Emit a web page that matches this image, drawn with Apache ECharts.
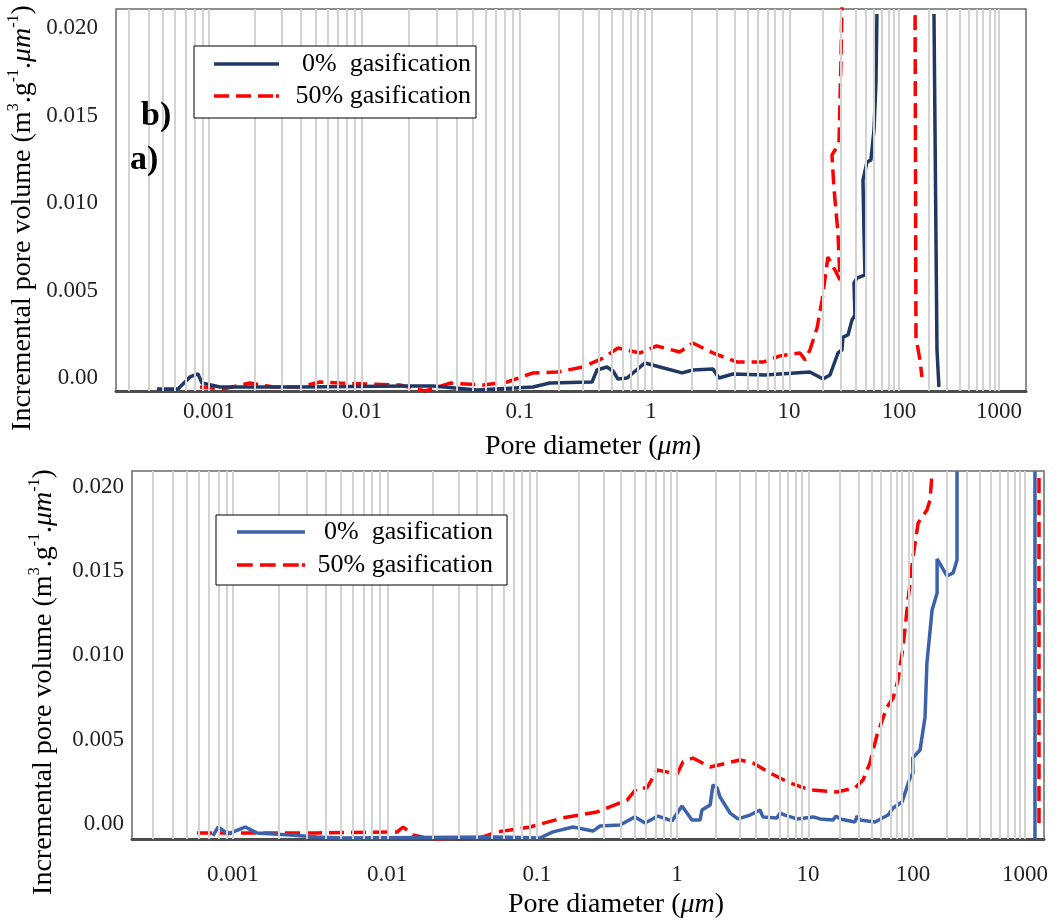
<!DOCTYPE html>
<html><head><meta charset="utf-8">
<script src="https://cdn.jsdelivr.net/npm/echarts@6/dist/echarts.min.js"></script>
<style>html,body{margin:0;padding:0;background:#fff}#c{width:1059px;height:921px}</style>
</head><body><div id="c"></div>
<script>
// ---------------- data ----------------
const decadeLabels = ['0.001', '0.01', '0.1', '1', '10', '100', '1000'];
const yTickValues = [0, 0.005, 0.010, 0.015, 0.020];
const seriesNames = ['0%  gasification', '50% gasification'];

// [pore diameter (um), incremental pore volume]; null = break in the curve
const topNoGas = [
  [0.000457,-0.00063],[0.000627,-0.00063],[0.000751,0.00006],[0.000848,0.00023],[0.0009,-0.00029],
  [0.00118,-0.00051],[0.00394,-0.00051],[0.0201,-0.00046],[0.0281,-0.00046],[0.0535,-0.00069],
  [0.1257,-0.00051],[0.169,-0.00029],[0.355,-0.00023],[0.387,0.00046],[0.461,0.00063],[0.513,0.0004],
  [0.56,-0.00006],[0.656,0],[0.9,0.00086],[1.16,0.00063],[1.68,0.00029],[2.01,0.00046],[2.81,0.00051],
  [3.11,0],[3.93,0.00023],[6.7,0.00017],[15.5,0.00034],[20.4,-0.00006],[23.6,0.00017],[27.9,0.00143],
  [30.3,0.0016],[31.0,0.00234],[34.4,0.00246],[37.4,0.00331],[39.8,0.0036],[39.0,0.00543],[41.5,0.00571],
  [49.1,0.00589],[48.1,0.00829],[47.1,0.01131],[51.2,0.01234],[55.6,0.01246],[59.3,0.01417],[61.8,0.01686],
  [63.1,0.0208],
  null,
  [224,0.0208],[240,0.0016],[251,-0.00051]
];
const topHalfGas = [
  [0.000873,-0.00051],[0.00123,-0.00063],[0.00185,-0.00029],[0.00262,-0.00051],[0.00394,-0.00051],
  [0.00531,-0.00023],[0.00718,-0.00029],[0.0174,-0.0004],[0.0251,-0.00074],[0.0361,-0.00029],
  [0.0583,-0.0004],[0.0828,-0.00023],[0.1257,0.00029],[0.192,0.00034],[0.303,0.00063],[0.43,0.00114],
  [0.56,0.00171],[0.824,0.00143],[1.1,0.00183],[1.62,0.00149],[2.01,0.002],[2.81,0.00143],[4.2,0.00091],
  [6.49,0.00091],[8.6,0.00126],[12.6,0.00143],[14.0,0.00103],[15.5,0.0016],[18.0,0.00286],[20.0,0.00446],
  [22.6,0.00691],[26.2,0.00617],[29.1,0.0056],[27.9,0.00829],[25.6,0.01091],[24.6,0.01274],[28.5,0.01343],
  [29.7,0.01817],[30.3,0.0212],
  null,
  [145,0.02074],[148,0.00234],[162,0.00103],[170,0.00006]
];
const bottomNoGas = [
  [0.000741,-0.00071],[0.0008,-0.00018],[0.00093,-0.00059],[0.0012,-0.00018],[0.00123,-0.00012],
  [0.00143,-0.00053],[0.00234,-0.00065],[0.00351,-0.00077],[0.00495,-0.00083],[0.0541,-0.00077],
  [0.105,-0.00083],[0.13,-0.00047],[0.181,-0.00018],[0.251,-0.00042],[0.282,-0.00012],[0.392,-0.00006],
  [0.501,0.00042],[0.591,0.00006],[0.731,0.00047],[0.921,0.00018],[1.09,0.00107],[1.3,0.00024],
  [1.5,0.00024],[1.55,0.00083],[1.79,0.00113],[1.88,0.00231],[2.02,0.00214],[2.13,0.0016],[2.54,0.00065],
  [2.92,0.0003],[3.61,0.00053],[4.3,0.00083],[4.53,0.00042],[5.8,0.00036],[6.11,0.00065],[6.67,0.00053],
  [8.24,0.0003],[11.2,0.00042],[13.0,0.0003],[17.3,0.00024],[18.5,0.00047],[20.2,0.0003],[28.0,0.00012],
  [29.3,0.00047],[31.3,0.00024],[43.5,0.00012],[57.8,0.00053],[64.6,0.00095],[78.5,0.0013],[93.5,0.00273],
  [100,0.00302],[99,0.00391],[115.5,0.00439],[128,0.00635],[133,0.00955],[148,0.01269],[164,0.0137],
  [164,0.01572],[201,0.01471],[228,0.01489],[247,0.01566],[247,0.0209],
  null,
  [1228,0.0209],[1228,-0.00089]
];
const bottomHalfGas = [
  [0.000584,-0.00053],[0.00123,-0.00053],[0.00351,-0.00053],[0.0117,-0.00047],[0.0128,-0.00018],
  [0.0149,-0.00065],[0.0194,-0.00089],[0.0417,-0.00083],[0.0541,-0.00047],[0.0898,-0.00018],
  [0.153,0.00036],[0.268,0.00071],[0.44,0.00142],[0.518,0.00214],[0.61,0.00214],[0.72,0.0032],
  [1.0,0.00297],[1.11,0.00368],[1.32,0.00391],[1.79,0.00338],[3.03,0.0038],[3.8,0.00362],[5.13,0.00302],
  [7.29,0.00243],[10.4,0.00202],[18.9,0.0019],[28.0,0.00214],[33.4,0.00261],[38.9,0.00362],[45.4,0.00528],
  [56.5,0.00694],[64.6,0.00747],[71.9,0.00854],[80.4,0.0105],[89.6,0.01329],[100,0.01584],[111,0.01785],
  [133,0.01862],[142,0.01922],[148,0.0209],
  null,
  [1334,0.02052],[1334,-0.00006]
];

// ---------------- axis warp (printed position of each decade, in decade units) ----------------
const topWarp = [0, 1.162, 2.362, 3.357, 4.405, 5.240, 6.0];
const bottomWarp = [0, 1.167, 2.303, 3.364, 4.356, 5.152, 6.0];

function toU(d, w) {
  const L = Math.log10(d) + 3;
  if (L <= 0) return L * (w[1] - w[0]);
  if (L >= 6) return w[6] + (L - 6) * (w[6] - w[5]);
  const k = Math.floor(L);
  return w[k] + (L - k) * (w[k + 1] - w[k]);
}
function mapData(arr, w) {
  return arr.map(p => p ? [toU(p[0], w), p[1]] : ['-', '-']);
}
function gridLineData(w, umin, umax) {
  const out = [];
  for (let e = -5; e <= 4; e++) for (let k = 1; k <= 9; k++) {
    const u = toU(k * Math.pow(10, e), w);
    if (u > umin + 0.01 && u < umax - 0.01) out.push({ xAxis: u });
  }
  return out;
}
function xLabelFmt(w) {
  return v => {
    let best = 0;
    for (let i = 1; i < w.length; i++) if (Math.abs(w[i] - v) < Math.abs(w[best] - v)) best = i;
    return decadeLabels[best];
  };
}

const FONT = '"Liberation Serif", "Times New Roman", serif';
const navy = '#203864', blue = '#3b62aa', red = '#ff0000';
const dash = [15, 7];
const LW = 3.5;

// legend icons: a solid bar and a dashed bar (aspect 130:7 = itemWidth:itemHeight)
const solidIcon = 'path://M0,0H130V7H0Z';
const dashIcon = 'path://M0,0H30V7H0Z M44,0H74V7H44Z M88,0H118V7H88Z M124,0H130V7H124Z';

const topRange = [-0.706, 6.205];
const botRange = [-0.765, 6.144];

const yRich = {
  n: { fontSize: 28, fontFamily: FONT, fill: '#000', lineHeight: 34 },
  i: { fontSize: 28, fontFamily: FONT, fontStyle: 'italic', fill: '#000', lineHeight: 34 },
  s: { fontSize: 16, fontFamily: FONT, fill: '#000', verticalAlign: 'top', lineHeight: 18 }
};
const yTitle = '{n|Incremental pore volume (m}{s|3}{n|.g}{s|-1}{n|.}{i|μm}{s|-1}{n|)}';
const xTitle = '{n|Pore diameter (}{i|μm}{n|)}';

function yAxisCfg(grid, min, max, margin) {
  return {
    gridIndex: grid, type: 'value', min: min, max: max,
    axisLine: { show: false }, axisTick: { show: false }, splitLine: { show: false },
    axisLabel: {
      customValues: yTickValues, margin: margin, fontSize: 23, fontFamily: FONT, color: '#222',
      formatter: v => (Math.abs(v) < 1e-9 ? '0.00' : v.toFixed(3))
    }
  };
}
function xAxisCfg(grid, range, w, margin) {
  return {
    gridIndex: grid, type: 'value', min: range[0], max: range[1],
    axisLine: { show: true, onZero: false, lineStyle: { color: '#4d4d4d', width: 3 } },
    axisTick: { show: false }, splitLine: { show: false },
    axisLabel: { customValues: w, formatter: xLabelFmt(w), margin: margin, fontSize: 23, fontFamily: FONT, color: '#222' }
  };
}
function legendCfg(left, top, pad, gap, iw, tw, blueCol) {
  return {
    orient: 'vertical', left: left, top: top, padding: pad, itemGap: gap,
    itemWidth: iw, itemHeight: iw * 7 / 130,
    borderColor: '#000', borderWidth: 1, backgroundColor: '#fff', selectedMode: false, z: 10,
    data: [
      { name: seriesNames[0], icon: solidIcon, itemStyle: { color: blueCol, borderWidth: 0 } },
      { name: seriesNames[1], icon: dashIcon, itemStyle: { color: red, borderWidth: 0 } }
    ],
    formatter: n => '{r|' + n + '}',
    textStyle: { rich: { r: { width: tw, align: 'right', fontSize: 26, fontFamily: FONT, color: '#000', lineHeight: 30 } } }
  };
}
function gridSeries(idx, w, range) {
  return {
    type: 'line', xAxisIndex: idx, yAxisIndex: idx, data: [], silent: true, z: 1,
    markLine: {
      silent: true, animation: false, symbol: ['none', 'none'], label: { show: false },
      lineStyle: { color: '#d3d3d3', width: 2, type: 'solid' }, emphasis: { disabled: true },
      data: gridLineData(w, range[0], range[1])
    }
  };
}
function dataSeries(idx, name, arr, w, col, type, z) {
  return {
    name: name, type: 'line', xAxisIndex: idx, yAxisIndex: idx, data: mapData(arr, w),
    symbol: 'none', showSymbol: false, connectNulls: false, clip: true, z: z,
    lineStyle: { color: col, width: LW, type: type }, itemStyle: { color: col },
    emphasis: { disabled: true }
  };
}

const chart = echarts.init(document.getElementById('c'), null, { renderer: 'canvas' });
chart.setOption({
  animation: false,
  backgroundColor: '#fff',
  grid: [
    { left: 116, right: 33, top: 9, bottom: 530, show: true, borderColor: '#6a6a6a', borderWidth: 1.5, containLabel: false, outerBoundsMode: 'none' },
    { left: 132, right: 15, top: 471, bottom: 82, show: true, borderColor: '#6a6a6a', borderWidth: 1.5, containLabel: false, outerBoundsMode: 'none' }
  ],
  xAxis: [xAxisCfg(0, topRange, topWarp, 9), xAxisCfg(1, botRange, bottomWarp, 24)],
  yAxis: [yAxisCfg(0, -0.000743, 0.02109, 18), yAxisCfg(1, -0.00089, 0.020936, 8)],
  legend: [
    legendCfg(194, 46, [5, 5, 9, 20], 6, 65, 187, navy),
    legendCfg(216, 515, [4, 14, 7, 21], 7, 68, 183, blue)
  ],
  series: [
    gridSeries(0, topWarp, topRange),
    gridSeries(1, bottomWarp, botRange),
    dataSeries(0, seriesNames[1], topHalfGas, topWarp, red, dash, 3),
    dataSeries(0, seriesNames[0], topNoGas, topWarp, navy, 'solid', 4),
    dataSeries(1, seriesNames[1], bottomHalfGas, bottomWarp, red, dash, 3),
    dataSeries(1, seriesNames[0], bottomNoGas, bottomWarp, blue, 'solid', 4)
  ],
  graphic: [
    { type: 'text', x: 23, y: 218, rotation: Math.PI / 2, z: 100, style: { text: yTitle, rich: yRich, align: 'center', verticalAlign: 'middle' } },
    { type: 'text', x: 44, y: 682, rotation: Math.PI / 2, z: 100, style: { text: yTitle, rich: yRich, align: 'center', verticalAlign: 'middle' } },
    { type: 'text', x: 593, y: 447, z: 100, style: { text: xTitle, rich: yRich, align: 'center', verticalAlign: 'middle' } },
    { type: 'text', x: 616, y: 905, z: 100, style: { text: xTitle, rich: yRich, align: 'center', verticalAlign: 'middle' } },
    { type: 'text', x: 141, y: 116, z: 100, style: { text: 'b)', fontSize: 34, fontWeight: 'bold', fontFamily: FONT, fill: '#000', align: 'left', verticalAlign: 'middle' } },
    { type: 'text', x: 130, y: 160, z: 100, style: { text: 'a)', fontSize: 34, fontWeight: 'bold', fontFamily: FONT, fill: '#000', align: 'left', verticalAlign: 'middle' } }
  ]
});
</script>
</body></html>
